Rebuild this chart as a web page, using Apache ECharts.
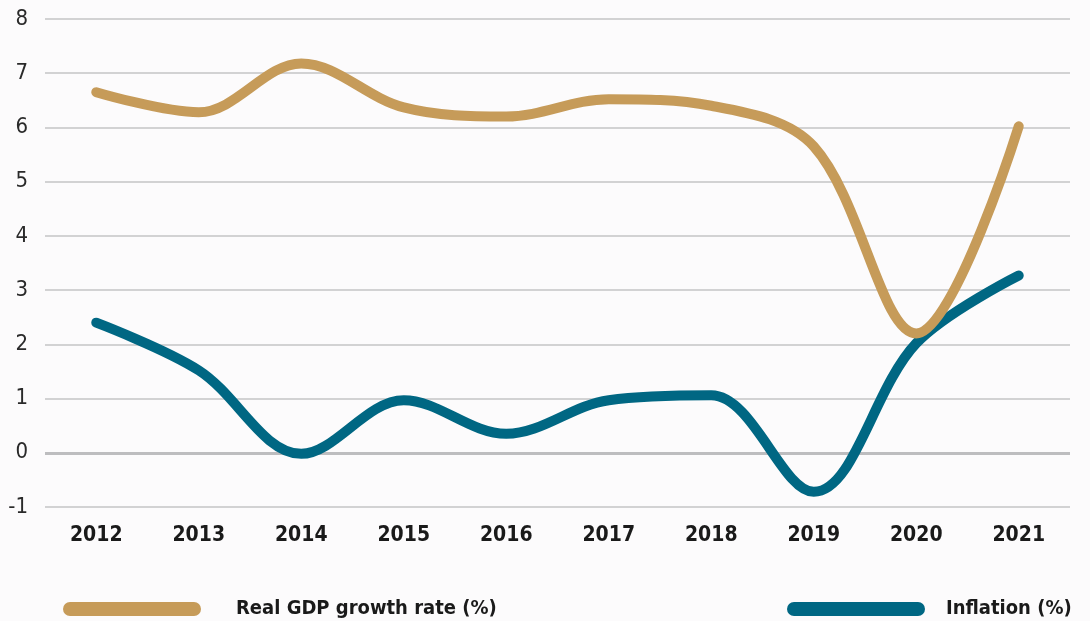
<!DOCTYPE html>
<html>
<head>
<meta charset="utf-8">
<script src="https://cdn.jsdelivr.net/npm/echarts@6/dist/echarts.min.js"></script>
<style>
  html, body { margin: 0; padding: 0; background: #fcfbfc; }
  #chart { width: 1090px; height: 621px; }
</style>
</head>
<body>
<div id="chart"></div>
<script>
// data
const years = ['2012', '2013', '2014', '2015', '2016', '2017', '2018', '2019', '2020', '2021']
const gdpGrowth = [6.65, 6.28, 7.18, 6.37, 6.2, 6.52, 6.4, 5.65, 2.2, 6.02]
const inflation = [2.4, 1.52, -0.02, 0.97, 0.35, 0.97, 1.06, -0.72, 2.02, 3.27]
const yTicks = [-1, 0, 1, 2, 3, 4, 5, 6, 7, 8]

const gold = '#c69b59'
const teal = '#006783'
const pill = 'path://M7,0 L131,0 A7,7 0 0 1 131,14 L7,14 A7,7 0 0 1 7,0 Z'
const font = '"Liberation Sans Narrow", "DejaVu Sans Condensed", sans-serif'

const chart = echarts.init(document.getElementById('chart'))

chart.setOption({
  backgroundColor: '#fcfbfc',
  grid: { left: 45, right: 20, top: 19, bottom: 114 },
  legend: [
    {
      data: ['Real GDP growth rate (%)'],
      left: 58, bottom: -3,
      icon: pill, itemWidth: 138, itemHeight: 14,
      textStyle: { fontFamily: font, fontWeight: 'bold', fontSize: 20, color: '#1a1a1a', padding: [0, 0, 0, 30] }
    },
    {
      data: ['Inflation (%)'],
      left: 782, bottom: -3,
      icon: pill, itemWidth: 138, itemHeight: 14,
      textStyle: { fontFamily: font, fontWeight: 'bold', fontSize: 20, color: '#1a1a1a', padding: [0, 0, 0, 16] }
    }
  ],
  xAxis: {
    type: 'category',
    data: years,
    axisLine: { show: false },
    axisTick: { show: false },
    axisLabel: { margin: 18, fontFamily: font, fontWeight: 'bold', fontSize: 21, color: '#1a1a1a' }
  },
  yAxis: {
    type: 'value',
    min: yTicks[0],
    max: yTicks[yTicks.length - 1],
    interval: 1,
    axisLine: { show: false },
    axisTick: { show: false },
    axisLabel: { margin: 17, fontFamily: font, fontSize: 22, color: '#2a2a2a' },
    splitLine: { lineStyle: { color: '#c4c4c6', width: 1.5 } }
  },
  series: [
    {
      name: 'Real GDP growth rate (%)',
      type: 'line',
      data: gdpGrowth,
      smooth: 0.35,
      symbol: 'none',
      lineStyle: { color: gold, width: 10, cap: 'round', join: 'round' },
      itemStyle: { color: gold },
      z: 3,
      markLine: {
        silent: true,
        symbol: 'none',
        label: { show: false },
        lineStyle: { color: '#bdbdbf', width: 3, type: 'solid' },
        data: [{ yAxis: 0 }],
        z: 1
      }
    },
    {
      name: 'Inflation (%)',
      type: 'line',
      data: inflation,
      smooth: 0.35,
      symbol: 'none',
      lineStyle: { color: teal, width: 10, cap: 'round', join: 'round' },
      itemStyle: { color: teal },
      z: 2
    }
  ]
})
</script>
</body>
</html>
